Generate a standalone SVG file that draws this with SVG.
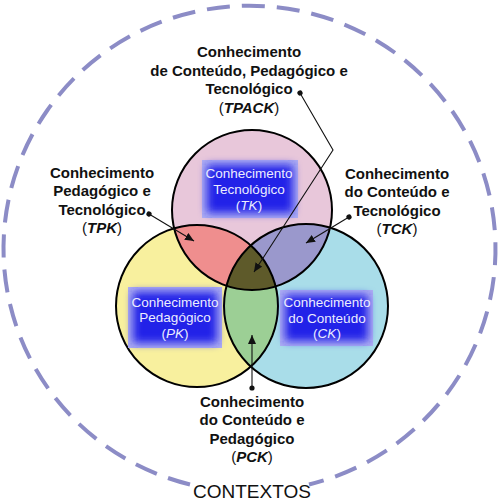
<svg xmlns="http://www.w3.org/2000/svg" width="498" height="503" viewBox="0 0 498 503">
<style>
.lbl{font-family:"Liberation Sans",Arial,sans-serif;font-weight:bold;font-size:15px;fill:#111;text-anchor:middle}
.par{font-weight:normal}
.ab{font-style:italic}
.box{font-family:"Liberation Sans",Arial,sans-serif;font-size:13.5px;fill:#ececff;text-anchor:middle}
.ring{fill:none;stroke:#000;stroke-width:2}
.conn{fill:none;stroke:#111;stroke-width:1.1}
</style>
<defs>
<marker id="arr" markerUnits="userSpaceOnUse" markerWidth="10" markerHeight="10" refX="9" refY="4" orient="auto"><path d="M0,0 L9,4 L0,8 Z" fill="#111"/></marker>
<marker id="dot" markerUnits="userSpaceOnUse" markerWidth="8" markerHeight="8" refX="4" refY="4" orient="auto"><circle cx="4" cy="4" r="2.6" fill="#111"/></marker>
<clipPath id="cT"><circle cx="252" cy="210" r="80"/></clipPath>
<clipPath id="cP"><circle cx="197" cy="306" r="81"/></clipPath>
<clipPath id="cC"><circle cx="306" cy="306" r="82"/></clipPath>
<filter id="soft" x="-30%" y="-30%" width="160%" height="160%"><feGaussianBlur stdDeviation="4"/></filter>
</defs>
<path d="M 190 484.5 A 246 243 0 1 1 309 484.5" fill="none" stroke="#8c8cc6" stroke-width="4" stroke-dasharray="23 12"/>
<g id="circles">
<circle cx="252" cy="210" r="80" fill="#e8c7da"/>
<circle cx="197" cy="306" r="81" fill="#f8f09e"/>
<circle cx="306" cy="306" r="82" fill="#a9dde9"/>
<circle cx="197" cy="306" r="81" fill="#ef8e8e" clip-path="url(#cT)"/>
<circle cx="306" cy="306" r="82" fill="#9a98cc" clip-path="url(#cT)"/>
<circle cx="306" cy="306" r="82" fill="#9ccf95" clip-path="url(#cP)"/>
<g clip-path="url(#cT)"><circle cx="306" cy="306" r="82" fill="#5e5a2a" clip-path="url(#cP)"/></g>
<circle class="ring" cx="252" cy="210" r="80"/>
<circle class="ring" cx="197" cy="306" r="81"/>
<circle class="ring" cx="306" cy="306" r="82"/>
</g>
<g id="TK">
<rect x="202" y="160" width="96" height="58" fill="#aeaef2"/>
<rect x="207" y="165" width="86" height="48" fill="#2020e8" filter="url(#soft)"/>
<text class="box" x="249" y="178">Conhecimento</text>
<text class="box" x="249" y="194">Tecnológico</text>
<text class="box" x="249" y="210">(<tspan class="ab">TK</tspan>)</text>
</g>
<g id="PK">
<rect x="128" y="287" width="94" height="61" fill="#aeaef2"/>
<rect x="133" y="292" width="84" height="51" fill="#2020e8" filter="url(#soft)"/>
<text class="box" x="175" y="307">Conhecimento</text>
<text class="box" x="175" y="322">Pedagógico</text>
<text class="box" x="175" y="338">(<tspan class="ab">PK</tspan>)</text>
</g>
<g id="CK">
<rect x="280" y="290" width="93" height="56" fill="#aeaef2"/>
<rect x="285" y="295" width="83" height="46" fill="#2020e8" filter="url(#soft)"/>
<text class="box" x="327" y="307">Conhecimento</text>
<text class="box" x="327" y="323">do Conteúdo</text>
<text class="box" x="327" y="338">(<tspan class="ab">CK</tspan>)</text>
</g>
<g id="connectors">
<polyline class="conn" points="300,93 333,150 254,272" marker-start="url(#dot)" marker-end="url(#arr)"/>
<line class="conn" x1="149" y1="214" x2="194" y2="241" marker-start="url(#dot)" marker-end="url(#arr)"/>
<line class="conn" x1="349" y1="217" x2="306" y2="243" marker-start="url(#dot)" marker-end="url(#arr)"/>
<line class="conn" x1="252" y1="388" x2="252" y2="335" marker-start="url(#dot)" marker-end="url(#arr)"/>
</g>
<g id="TPACK">
<text class="lbl" x="249" y="57">Conhecimento</text>
<text class="lbl" x="249" y="76">de Conteúdo, Pedagógico e</text>
<text class="lbl" x="249" y="94">Tecnológico</text>
<text class="lbl" x="249" y="113"><tspan class="par">(</tspan><tspan class="ab">TPACK</tspan><tspan class="par">)</tspan></text>
</g>
<g id="TPK">
<text class="lbl" x="102" y="178">Conhecimento</text>
<text class="lbl" x="102" y="196">Pedagógico e</text>
<text class="lbl" x="102" y="215">Tecnológico</text>
<text class="lbl" x="102" y="233"><tspan class="par">(</tspan><tspan class="ab">TPK</tspan><tspan class="par">)</tspan></text>
</g>
<g id="TCK">
<text class="lbl" x="397" y="179">Conhecimento</text>
<text class="lbl" x="397" y="197">do Conteúdo e</text>
<text class="lbl" x="397" y="216">Tecnológico</text>
<text class="lbl" x="397" y="234"><tspan class="par">(</tspan><tspan class="ab">TCK</tspan><tspan class="par">)</tspan></text>
</g>
<g id="PCK">
<text class="lbl" x="252" y="407">Conhecimento</text>
<text class="lbl" x="252" y="425">do Conteúdo e</text>
<text class="lbl" x="252" y="444">Pedagógico</text>
<text class="lbl" x="252" y="462"><tspan class="par">(</tspan><tspan class="ab">PCK</tspan><tspan class="par">)</tspan></text>
</g>
<g id="contextos">
<text x="252" y="498" font-family="Liberation Sans,Arial,sans-serif" font-size="19" fill="#111" text-anchor="middle">CONTEXTOS</text>
</g>
</svg>
